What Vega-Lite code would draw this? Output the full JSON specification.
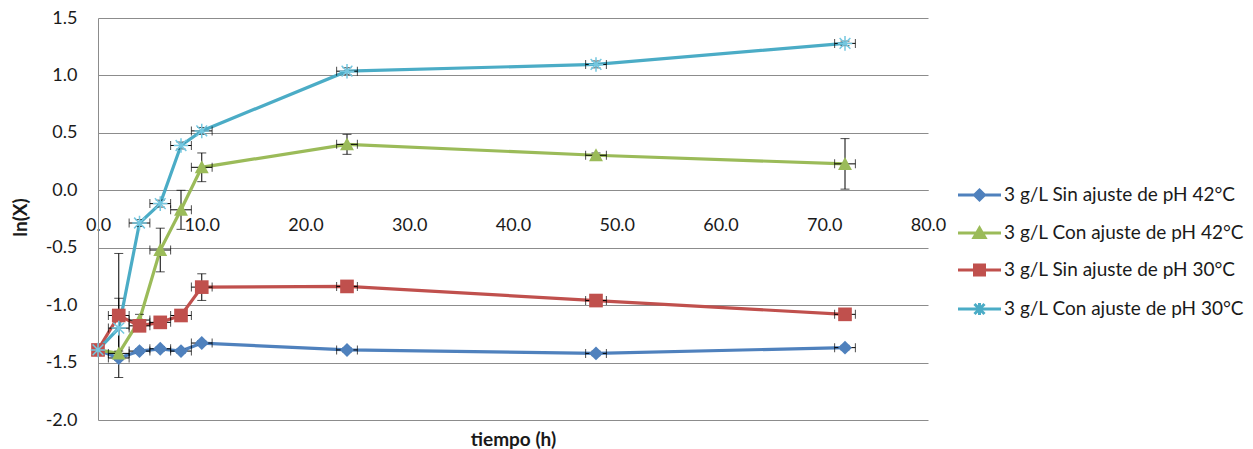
{
  "$schema": "https://vega.github.io/schema/vega-lite/v6.json",
  "width": 830,
  "height": 402,
  "autosize": {"type": "none"},
  "padding": {"left": 98, "top": 18, "right": 325, "bottom": 29},
  "background": "white",
  "config": {
    "font": "Lato",
    "view": {"stroke": null},
    "axis": {"labelFont": "Lato", "titleFont": "Lato", "labelColor": "#1a1a1a", "titleColor": "#1a1a1a"}
  },
  "data": {
    "values": [
      {"s": "3 g/L Sin ajuste de pH 42°C", "t": 0, "v": -1.39, "ye": 0, "xe": 0},
      {"s": "3 g/L Sin ajuste de pH 42°C", "t": 2, "v": -1.46, "ye": 0.02, "xe": 1},
      {"s": "3 g/L Sin ajuste de pH 42°C", "t": 4, "v": -1.40, "ye": 0.02, "xe": 1},
      {"s": "3 g/L Sin ajuste de pH 42°C", "t": 6, "v": -1.38, "ye": 0.02, "xe": 1},
      {"s": "3 g/L Sin ajuste de pH 42°C", "t": 8, "v": -1.40, "ye": 0.02, "xe": 1},
      {"s": "3 g/L Sin ajuste de pH 42°C", "t": 10, "v": -1.33, "ye": 0.02, "xe": 1},
      {"s": "3 g/L Sin ajuste de pH 42°C", "t": 24, "v": -1.39, "ye": 0.02, "xe": 1},
      {"s": "3 g/L Sin ajuste de pH 42°C", "t": 48, "v": -1.42, "ye": 0.02, "xe": 1},
      {"s": "3 g/L Sin ajuste de pH 42°C", "t": 72, "v": -1.37, "ye": 0.02, "xe": 1},
      {"s": "3 g/L Con ajuste de pH 42°C", "t": 0, "v": -1.39, "ye": 0, "xe": 0},
      {"s": "3 g/L Con ajuste de pH 42°C", "t": 2, "v": -1.42, "ye": 0.02, "xe": 1},
      {"s": "3 g/L Con ajuste de pH 42°C", "t": 4, "v": -1.13, "ye": 0.05, "xe": 1},
      {"s": "3 g/L Con ajuste de pH 42°C", "t": 6, "v": -0.52, "ye": 0.19, "xe": 1},
      {"s": "3 g/L Con ajuste de pH 42°C", "t": 8, "v": -0.17, "ye": 0.17, "xe": 1},
      {"s": "3 g/L Con ajuste de pH 42°C", "t": 10, "v": 0.20, "ye": 0.125, "xe": 1},
      {"s": "3 g/L Con ajuste de pH 42°C", "t": 24, "v": 0.40, "ye": 0.087, "xe": 1},
      {"s": "3 g/L Con ajuste de pH 42°C", "t": 48, "v": 0.305, "ye": 0.02, "xe": 1},
      {"s": "3 g/L Con ajuste de pH 42°C", "t": 72, "v": 0.23, "ye": 0.22, "xe": 1},
      {"s": "3 g/L Sin ajuste de pH 30°C", "t": 0, "v": -1.39, "ye": 0, "xe": 0},
      {"s": "3 g/L Sin ajuste de pH 30°C", "t": 2, "v": -1.09, "ye": 0.54, "xe": 1},
      {"s": "3 g/L Sin ajuste de pH 30°C", "t": 4, "v": -1.18, "ye": 0.03, "xe": 1},
      {"s": "3 g/L Sin ajuste de pH 30°C", "t": 6, "v": -1.15, "ye": 0.03, "xe": 1},
      {"s": "3 g/L Sin ajuste de pH 30°C", "t": 8, "v": -1.09, "ye": 0.03, "xe": 1},
      {"s": "3 g/L Sin ajuste de pH 30°C", "t": 10, "v": -0.843, "ye": 0.116, "xe": 1},
      {"s": "3 g/L Sin ajuste de pH 30°C", "t": 24, "v": -0.837, "ye": 0.03, "xe": 1},
      {"s": "3 g/L Sin ajuste de pH 30°C", "t": 48, "v": -0.96, "ye": 0.02, "xe": 1},
      {"s": "3 g/L Sin ajuste de pH 30°C", "t": 72, "v": -1.08, "ye": 0.02, "xe": 1},
      {"s": "3 g/L Con ajuste de pH 30°C", "t": 0, "v": -1.39, "ye": 0, "xe": 0},
      {"s": "3 g/L Con ajuste de pH 30°C", "t": 2, "v": -1.20, "ye": 0.26, "xe": 1},
      {"s": "3 g/L Con ajuste de pH 30°C", "t": 4, "v": -0.285, "ye": 0.03, "xe": 1},
      {"s": "3 g/L Con ajuste de pH 30°C", "t": 6, "v": -0.116, "ye": 0.03, "xe": 1},
      {"s": "3 g/L Con ajuste de pH 30°C", "t": 8, "v": 0.39, "ye": 0.03, "xe": 1},
      {"s": "3 g/L Con ajuste de pH 30°C", "t": 10, "v": 0.517, "ye": 0.03, "xe": 1},
      {"s": "3 g/L Con ajuste de pH 30°C", "t": 24, "v": 1.037, "ye": 0.03, "xe": 1},
      {"s": "3 g/L Con ajuste de pH 30°C", "t": 48, "v": 1.096, "ye": 0.03, "xe": 1},
      {"s": "3 g/L Con ajuste de pH 30°C", "t": 72, "v": 1.279, "ye": 0.02, "xe": 1}
    ]
  },
  "encoding": {
    "x": {
      "field": "t", "type": "quantitative",
      "scale": {"domain": [0, 80], "nice": false, "zero": false},
      "axis": {
        "title": "tiempo (h)",
        "values": [0, 10, 20, 30, 40, 50, 60, 70, 80],
        "labelExpr": "replace(format(datum.value, '.1f'), '\u2212', '-')",
        "grid": false, "ticks": false, "tickSize": 0,
        "domainColor": "#8c8c8c", "domainWidth": 1,
        "offset": -230,
        "labelPadding": 26, "labelFontSize": 18, "labelBaseline": "top",
        "labelFlush": false, "labelOverlap": false, "labelBound": false,
        "titleFontSize": 19, "titleFontWeight": "bold",
        "titleY": 249, "titleBaseline": "middle", "titleX": 415, "titleAlign": "center", "titleAnchor": null
      }
    },
    "y": {
      "field": "v", "type": "quantitative",
      "scale": {"domain": [-2, 1.5], "nice": false, "zero": false},
      "axis": {
        "title": "ln(X)",
        "values": [-2, -1.5, -1, -0.5, 0, 0.5, 1, 1.5],
        "labelExpr": "replace(format(datum.value, '.1f'), '\u2212', '-')",
        "grid": true, "gridColor": "#8c8c8c", "gridWidth": 1,
        "ticks": false, "tickSize": 0,
        "domainColor": "#8c8c8c", "domainWidth": 1,
        "labelPadding": 21, "labelFontSize": 18,
        "labelFlush": false, "labelOverlap": false, "labelBound": false,
        "titleFontSize": 19, "titleFontWeight": "bold",
        "titleAngle": 270, "titleX": -78, "titleY": 199, "titleAlign": "center", "titleBaseline": "middle", "titleAnchor": null
      }
    }
  },
  "layer": [
    {
      "transform": [{"filter": "datum.s == '3 g/L Sin ajuste de pH 42°C'"}],
      "mark": {"type": "line", "strokeWidth": 3.2, "color": "#4F81BD"}
    },
    {
      "transform": [{"filter": "datum.s == '3 g/L Con ajuste de pH 42°C'"}],
      "mark": {"type": "line", "strokeWidth": 3.2, "color": "#9BBB59"}
    },
    {
      "transform": [{"filter": "datum.s == '3 g/L Sin ajuste de pH 30°C'"}],
      "mark": {"type": "line", "strokeWidth": 3.2, "color": "#C0504D"}
    },
    {
      "transform": [{"filter": "datum.s == '3 g/L Con ajuste de pH 30°C'"}],
      "mark": {"type": "line", "strokeWidth": 3.2, "color": "#4BACC6"}
    },
    {
      "transform": [{"filter": "datum.t > 0"}],
      "mark": {"type": "errorbar", "color": "black", "thickness": 1, "ticks": {"size": 9, "color": "black", "thickness": 1}},
      "encoding": {"yError": {"field": "ye"}}
    },
    {
      "transform": [{"filter": "datum.t > 0"}],
      "mark": {"type": "errorbar", "color": "black", "thickness": 1, "ticks": {"size": 9, "color": "black", "thickness": 1}},
      "encoding": {"xError": {"field": "xe"}}
    },
    {
      "transform": [{"filter": "datum.s == '3 g/L Sin ajuste de pH 42°C'"}],
      "mark": {"type": "point", "filled": true, "opacity": 1, "size": 160, "strokeWidth": 0, "color": "#4F81BD",
        "shape": "M0,-1.1L1.1,0L0,1.1L-1.1,0Z"}
    },
    {
      "transform": [{"filter": "datum.s == '3 g/L Con ajuste de pH 42°C'"}],
      "mark": {"type": "point", "filled": true, "opacity": 1, "size": 160, "strokeWidth": 0, "color": "#9BBB59",
        "shape": "M0,-1.1L1.1,0.95L-1.1,0.95Z"}
    },
    {
      "transform": [{"filter": "datum.s == '3 g/L Sin ajuste de pH 30°C'"}],
      "mark": {"type": "point", "filled": true, "opacity": 1, "size": 160, "strokeWidth": 0, "color": "#C0504D",
        "shape": "M-1.08,-1.08H1.08V1.08H-1.08Z"}
    },
    {
      "transform": [{"filter": "datum.s == '3 g/L Con ajuste de pH 30°C'"}],
      "mark": {"type": "point", "filled": false, "opacity": 1, "size": 160, "strokeWidth": 1.5, "color": "#74c7e0",
        "shape": "M0,-1.15V1.15M-1.15,0H1.15M-0.85,-0.85L0.85,0.85M-0.85,0.85L0.85,-0.85"}
    },
    {
      "transform": [{"filter": "datum.t < 0"}],
      "mark": {"type": "point", "filled": true, "opacity": 1, "size": 400, "strokeWidth": 3},
      "encoding": {
        "fill": {
          "field": "s", "type": "nominal",
          "scale": {
            "domain": ["3 g/L Sin ajuste de pH 42°C", "3 g/L Con ajuste de pH 42°C", "3 g/L Sin ajuste de pH 30°C", "3 g/L Con ajuste de pH 30°C"],
            "range": ["#4F81BD", "#9BBB59", "#C0504D", "#4BACC6"]
          },
          "legend": {
            "orient": "none", "legendX": 870, "legendY": 165.5, "title": null, "padding": 0,
            "symbolSize": 400, "rowPadding": 15, "labelOffset": 13,
            "labelFontSize": 19, "labelFont": "Lato", "labelColor": "#1a1a1a", "labelLimit": 0,
            "symbolStrokeWidth": 3, "symbolOpacity": 1
          }
        },
        "stroke": {
          "field": "s", "type": "nominal",
          "scale": {
            "domain": ["3 g/L Sin ajuste de pH 42°C", "3 g/L Con ajuste de pH 42°C", "3 g/L Sin ajuste de pH 30°C", "3 g/L Con ajuste de pH 30°C"],
            "range": ["#4F81BD", "#9BBB59", "#C0504D", "#4BACC6"]
          },
          "legend": {
            "orient": "none", "legendX": 870, "legendY": 165.5, "title": null, "padding": 0,
            "symbolSize": 400, "rowPadding": 15, "labelOffset": 13,
            "labelFontSize": 19, "labelFont": "Lato", "labelColor": "#1a1a1a", "labelLimit": 0,
            "symbolStrokeWidth": 3, "symbolOpacity": 1
          }
        },
        "shape": {
          "field": "s", "type": "nominal",
          "scale": {
            "domain": ["3 g/L Sin ajuste de pH 42°C", "3 g/L Con ajuste de pH 42°C", "3 g/L Sin ajuste de pH 30°C", "3 g/L Con ajuste de pH 30°C"],
            "range": ["M-2.15,0H2.15M0,-0.5L0.5,0L0,0.5L-0.5,0Z", "M-2.15,0H2.15M0,-0.5L0.55,0.45L-0.55,0.45Z", "M-2.15,0H2.15M-0.5,-0.5H0.5V0.5H-0.5Z", "M-2.15,0H2.15M0,-0.6V0.6M-0.5,-0.5L0.5,0.5M-0.5,0.5L0.5,-0.5"]
          },
          "legend": {
            "orient": "none", "legendX": 870, "legendY": 165.5, "title": null, "padding": 0,
            "symbolSize": 400, "rowPadding": 15, "labelOffset": 13,
            "labelFontSize": 19, "labelFont": "Lato", "labelColor": "#1a1a1a", "labelLimit": 0,
            "symbolStrokeWidth": 3, "symbolOpacity": 1
          }
        }
      }
    }
  ]
}
